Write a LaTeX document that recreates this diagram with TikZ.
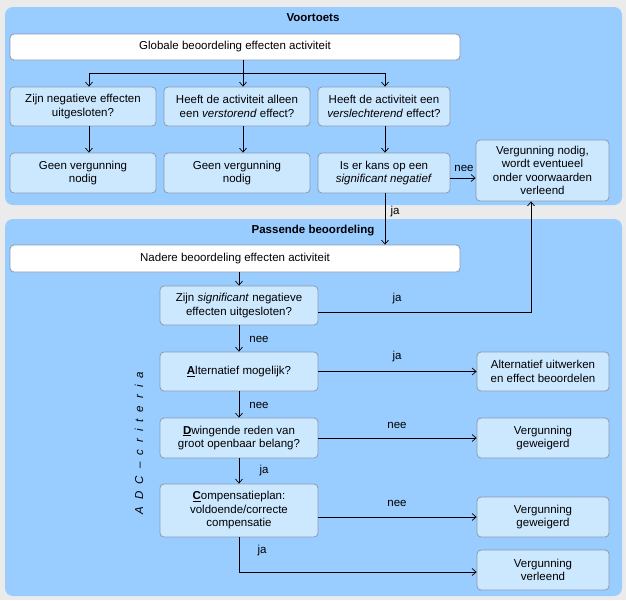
\documentclass[tikz,border=0pt]{standalone}
\usepackage{fontspec}
\setmainfont{Liberation Sans}
\usetikzlibrary{arrows.meta}

\definecolor{panelblue}{HTML}{99CCFF}
\definecolor{boxblue}{HTML}{CCE8FF}
\definecolor{boxline}{HTML}{8C9BAD}
\definecolor{bggray}{HTML}{EBEBEB}

\newcommand{\widespace}{\spaceskip=7pt\relax}

\tikzset{
  panel/.style={fill=panelblue, rounded corners=8pt},
  stepbox/.style={draw=boxline, fill=boxblue, rounded corners=4pt, align=center,
    inner sep=0pt, line width=0.8pt},
  widebox/.style={stepbox, fill=white, minimum width=450pt, minimum height=26pt},
  colbox/.style={stepbox, minimum width=146pt, minimum height=39pt},
  midbox/.style={stepbox, minimum width=158pt, minimum height=39pt},
  endbox/.style={stepbox, minimum width=132pt, minimum height=40pt},
  flow/.style={-{Straight Barb[length=4pt,width=7pt]}, line width=0.7pt},
  lbl/.style={inner sep=0pt},
}

\begin{document}
\begin{tikzpicture}[x=1pt, y=-1pt, font=\fontsize{11.5}{13.5}\selectfont]
    % background and the two panels
    \fill[bggray] (0,0) rectangle (626,600);
    \useasboundingbox (0,0) rectangle (626,600);
    \fill[panel] (5,7) rectangle (622,205);
    \fill[panel] (5,219) rectangle (622,596);
    \node[lbl, font=\fontsize{11.5}{13.5}\selectfont\bfseries] (voortoets) at (313,18) {Voortoets};
    \node[lbl, font=\fontsize{11.5}{13.5}\selectfont\bfseries] (passend) at (313,231) {Passende beoordeling};

    % voortoets
    \node[widebox] (glob) at (235,47) {Globale beoordeling effecten activiteit};
    \node[colbox] (q1) at (83,106.5) {Zijn negatieve effecten\\uitgesloten?};
    \node[colbox] (q2) at (237,106.5) {Heeft de activiteit alleen\\een \textit{verstorend} effect?};
    \node[colbox, minimum width=132pt] (q3) at (384,106.5) {Heeft de activiteit een\\\textit{verslechterend} effect?};
    \node[colbox, minimum height=40pt] (n1) at (83,173) {Geen vergunning\\nodig};
    \node[colbox, minimum height=40pt] (n2) at (237,173) {Geen vergunning\\nodig};
    \node[colbox, minimum width=132pt, minimum height=40pt] (n3) at (384,173) {Is er kans op een\\\textit{significant negatief}};
    \node[endbox, minimum width=133pt, minimum height=61pt] (vnod) at (542.5,170.5) {Vergunning nodig,\\wordt eventueel\\onder voorwaarden\\verleend};

    \coordinate (split) at (243,73);
    \draw[line width=0.7pt] (glob.south -| split) -- (split);
    \draw[flow] (split) -| ([xshift=6pt]q1.north);
    \draw[flow] (split) -- ([xshift=6pt]q2.north);
    \draw[flow] (split) -| ([xshift=1pt]q3.north);
    \draw[flow] ([xshift=6pt]q1.south) -- ([xshift=6pt]n1.north);
    \draw[flow] ([xshift=6pt]q2.south) -- ([xshift=6pt]n2.north);
    \draw[flow] ([xshift=1pt]q3.south) -- ([xshift=1pt]n3.north);
    \draw[flow] ([yshift=-5pt]n3.east) -- ([yshift=-5pt]n3.east -| vnod.west);
    \node[lbl] (nee0) at (464,168) {nee};

    % passende beoordeling
    \node[widebox, minimum height=27pt] (nadere) at (235,258.5) {Nadere beoordeling effecten activiteit};
    \node[midbox] (sig) at (239,305.5) {Zijn \textit{significant} negatieve\\effecten uitgesloten?};
    \node[midbox] (alt) at (239,371.5) {\underline{\textbf{A}}lternatief mogelijk?};
    \node[midbox, minimum height=40pt] (dwing) at (239,438) {\underline{\textbf{D}}wingende reden van\\groot openbaar belang?};
    \node[midbox, minimum height=53pt] (comp) at (239,510.5) {\underline{\textbf{C}}ompensatieplan:\\voldoende/correcte\\compensatie};
    \node[endbox, minimum height=39pt] (altuit) at (543,371.5) {Alternatief uitwerken\\en effect beoordelen};
    \node[endbox] (gew1) at (543,438) {Vergunning\\geweigerd};
    \node[endbox] (gew2) at (543,517) {Vergunning\\geweigerd};
    \node[endbox] (verl) at (543,570) {Vergunning\\verleend};

    \draw[flow] ([xshift=1pt]n3.south) -- ([xshift=1pt]n3.south |- nadere.north);
    \node[lbl] (ja0) at (395,212) {ja};
    \draw[flow] (sig.north |- nadere.south) -- (sig.north);
    \draw[flow] ([yshift=-7pt]sig.east) -| ([xshift=-11.5pt]vnod.south);
    \node[lbl] (ja1) at (397,299) {ja};
    \draw[flow] (sig.south) -- (alt.north);
    \node[lbl] (nee1) at (259,339) {nee};
    \draw[flow] (alt.east) -- (altuit.west);
    \node[lbl] (ja2) at (397,357) {ja};
    \draw[flow] (alt.south) -- (dwing.north);
    \node[lbl] (nee2) at (259,405) {nee};
    \draw[flow] (dwing.east) -- (gew1.west);
    \node[lbl] (nee3) at (397,425) {nee};
    \draw[flow] (dwing.south) -- (comp.north);
    \node[lbl] (ja3) at (264,471) {ja};
    \draw[flow] (gew2.west -| comp.east) -- (gew2.west);
    \node[lbl] (nee4) at (397,503) {nee};
    \draw[flow] (comp.south) |- ([yshift=-2pt]verl.west);
    \node[lbl] (ja4) at (262,551) {ja};

    \node[lbl, rotate=90, font=\fontsize{11.5}{13.5}\selectfont\itshape] (adc) at (139,443) {\widespace A D C – c r i t e r i a};
\end{tikzpicture}
\end{document}
